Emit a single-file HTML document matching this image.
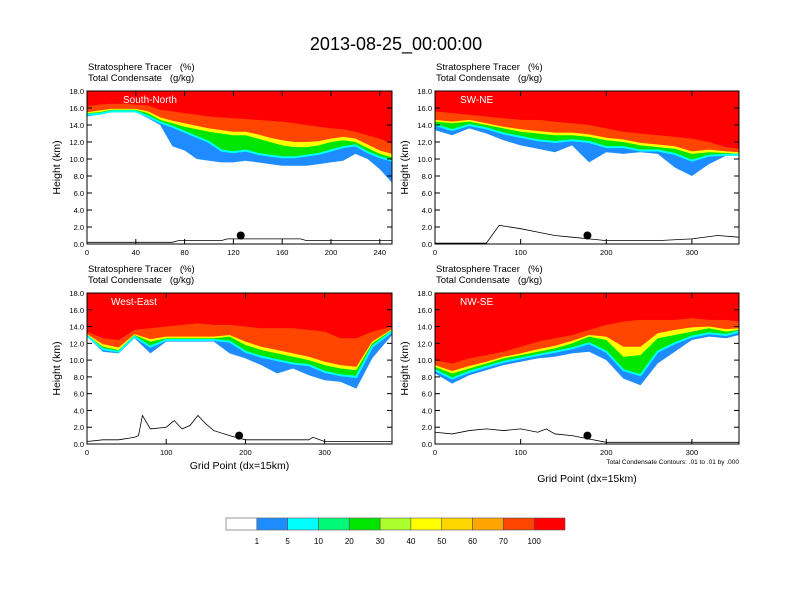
<!DOCTYPE html>
<html><head><meta charset="utf-8"><style>
body{margin:0;background:#fff;}
svg{display:block;font-family:"Liberation Sans",sans-serif;}
.pre{white-space:pre;}
</style></head><body>
<svg id="chart" width="792" height="612" viewBox="0 0 792 612">
<text x="396" y="50" text-anchor="middle" font-size="18">2013-08-25_00:00:00</text>
</svg>
<script>
// ---- data ----
const p1X=[0,10,20,30,40,50,60,70,80,90,100,110,120,130,140,150,160,170,180,190,200,210,220,230,240,250];
const p1B100=[16.2,16.4,16.5,16.5,16.4,16.3,15.8,15.6,15.4,15.2,15.0,14.9,14.8,14.7,14.6,14.5,14.4,14.2,14.0,13.8,13.6,13.5,13.2,12.8,12.4,11.8];
const p1B60=[15.5,15.7,15.9,15.9,15.9,15.6,14.9,14.5,14.2,13.9,13.6,13.4,13.2,13.2,12.9,12.5,12.2,12.0,12.0,12.1,12.4,12.6,12.4,11.7,11.0,10.6];
const p1B30=[15.4,15.5,15.8,15.8,15.8,15.4,14.6,14.2,13.8,13.5,13.2,13.0,12.8,12.8,12.4,12.0,11.6,11.4,11.4,11.6,12.0,12.2,12.0,11.3,10.6,10.2];
const p1B10=[15.2,15.3,15.6,15.6,15.6,15.0,14.3,13.8,13.2,12.6,12.0,11.0,10.8,11.0,10.6,10.4,10.2,10.2,10.4,10.6,11.0,11.4,11.6,10.8,10.2,9.8];
const p1B1=[15.0,15.2,15.5,15.5,15.5,14.8,14.0,11.5,11.0,10.0,9.8,9.6,9.6,9.8,9.6,9.4,9.2,9.2,9.2,9.4,9.6,9.8,10.6,10.0,8.8,7.2];
const p1TerrX=[0,70,75,110,115,175,180,250];
const p1Terr=[0.2,0.2,0.4,0.4,0.6,0.6,0.4,0.4];

const p2X=[0,20,40,60,80,100,120,140,160,180,200,220,240,260,280,300,320,340,355];
const p2B100=[15.6,15.4,15.2,15.0,14.8,14.6,14.6,14.4,14.2,14.0,13.6,13.2,13.0,12.8,12.6,12.4,12.0,11.4,11.2];
const p2B60=[14.6,14.4,14.6,14.2,13.8,13.5,13.3,13.1,13.1,12.9,12.5,12.3,11.9,11.7,11.5,10.9,11.1,10.9,10.8];
const p2B30=[14.4,14.2,14.4,14.0,13.6,13.2,13.0,12.8,12.8,12.6,12.2,12.0,11.6,11.4,11.2,10.6,10.8,10.7,10.6];
const p2B10=[14.0,13.4,14.0,13.6,13.0,12.6,12.2,12.0,12.2,12.0,11.4,11.4,11.0,11.0,10.6,9.8,10.4,10.5,10.5];
const p2B1=[13.4,12.8,13.6,13.0,12.2,11.6,11.2,10.8,11.6,9.6,10.8,10.6,10.8,10.6,9.0,8.0,9.4,10.4,10.4];
const p2TerrX=[0,60,75,100,120,140,160,180,200,260,300,330,355];
const p2Terr=[0.1,0.1,2.2,1.8,1.4,1.0,0.8,0.6,0.4,0.4,0.6,1.0,0.8];

const p3X=[0,20,40,60,80,100,120,140,160,180,200,220,240,260,280,300,320,340,360,385];
const p3B100=[13.4,12.6,12.4,13.6,13.8,14.0,14.2,14.4,14.2,14.2,14.0,13.8,13.8,13.8,13.6,13.4,12.6,12.6,13.4,14.0];
const p3B60=[13.1,11.9,11.5,13.1,12.5,12.8,12.8,12.8,12.8,13.0,12.2,11.6,11.2,10.8,10.4,9.8,9.4,9.2,12.2,13.7];
const p3B30=[13.0,11.6,11.2,13.0,12.2,12.6,12.6,12.6,12.6,12.8,11.8,11.2,10.8,10.4,10.0,9.4,9.0,8.8,12.0,13.6];
const p3B10=[12.9,11.3,11.0,12.8,11.6,12.4,12.4,12.4,12.4,12.2,11.0,10.4,10.0,9.6,9.4,8.6,8.2,8.0,11.6,13.4];
const p3B1=[12.8,11.0,10.8,12.6,10.8,12.2,12.2,12.2,12.2,10.8,10.2,9.4,8.4,9.0,8.2,7.6,7.4,6.6,10.2,13.0];
const p3TerrX=[0,20,40,60,65,70,80,100,110,120,130,140,150,160,180,200,280,285,300,385];
const p3Terr=[0.3,0.5,0.5,0.8,1.0,3.4,1.8,2.0,2.8,1.8,2.2,3.4,2.4,1.6,1.0,0.5,0.5,0.8,0.3,0.3];

const p4X=[0,20,40,60,80,100,120,140,160,180,200,220,240,260,280,300,320,340,355];
const p4B100=[10.0,9.6,10.2,10.6,11.0,11.6,12.2,12.6,13.0,13.6,14.2,14.6,14.8,14.8,14.8,15.0,14.8,14.8,14.6];
const p4B60=[9.4,8.7,9.3,9.8,10.4,10.8,11.3,11.7,12.3,13.0,12.8,11.6,11.6,13.2,13.6,13.9,14.0,13.7,13.8];
const p4B30=[9.2,8.4,9.0,9.6,10.2,10.6,11.0,11.4,12.0,12.8,12.4,10.4,10.6,12.6,13.0,13.4,13.8,13.4,13.6];
const p4B10=[8.8,7.8,8.6,9.2,9.8,10.2,10.6,11.0,11.4,12.0,11.0,8.8,8.2,11.0,12.0,12.8,13.2,13.0,13.4];
const p4B1=[8.4,7.2,8.2,8.8,9.4,9.8,10.2,10.4,10.8,11.0,10.0,7.8,7.0,9.6,11.0,12.4,12.8,12.6,13.0];
const p4TerrX=[0,20,40,60,80,100,120,130,140,160,180,200,260,300,355];
const p4Terr=[1.4,1.2,1.6,1.8,1.6,1.8,1.4,1.8,1.2,1.0,0.6,0.2,0.2,0.2,0.2];

const cbLabels=["1","5","10","20","30","40","50","60","70","100"];
const cbColors=["#ffffff","#1e8cff","#00ffff","#00fa78","#00e600","#aaff2d","#ffff00","#ffd700","#ffa500","#ff4500","#ff0000"];

const yTicks=[0,2,4,6,8,10,12,14,16,18];
const panels=[
 {name:"south-north",label:"South-North",x0:87,y0:91,w:305,h:153,xmax:250,ticks:[0,40,80,120,160,200,240],X:p1X,B:[p1B1,p1B10,p1B30,p1B60,p1B100],tx:p1TerrX,tv:p1Terr,dot:126,lx:123},
 {name:"sw-ne",label:"SW-NE",x0:435,y0:91,w:304,h:153,xmax:355,ticks:[0,100,200,300],X:p2X,B:[p2B1,p2B10,p2B30,p2B60,p2B100],tx:p2TerrX,tv:p2Terr,dot:178,lx:460},
 {name:"west-east",label:"West-East",x0:87,y0:293,w:305,h:151,xmax:385,ticks:[0,100,200,300],X:p3X,B:[p3B1,p3B10,p3B30,p3B60,p3B100],tx:p3TerrX,tv:p3Terr,dot:192,lx:111},
 {name:"nw-se",label:"NW-SE",x0:435,y0:293,w:304,h:151,xmax:355,ticks:[0,100,200,300],X:p4X,B:[p4B1,p4B10,p4B30,p4B60,p4B100],tx:p4TerrX,tv:p4Terr,dot:178,lx:460}
];
const bandColors=["#1e8cff","#00e600","#ffff00","#ff4500","#ff0000"];
// ---- render ----
const NS="http://www.w3.org/2000/svg";
const svg=document.getElementById("chart");
function mk(tag,attrs,parent){const e=document.createElementNS(NS,tag);for(const k in attrs)e.setAttribute(k,attrs[k]);(parent||svg).appendChild(e);return e;}
panels.forEach((p,pi)=>{
 const sx=v=>p.x0+v/p.xmax*p.w;
 const sy=v=>p.y0+p.h-v/18*p.h;
 const g=mk("g",{});
 
 
 const cp=mk("clipPath",{id:"c"+pi},g);
 mk("rect",{x:p.x0,y:p.y0,width:p.w,height:p.h},cp);
 const fg=mk("g",{"clip-path":"url(#c"+pi+")"},g);
 p.B.forEach((arr,bi)=>{
  let pts=p.X.map((x,i)=>sx(x)+","+sy(arr[i])).join(" ");
  pts+=" "+sx(p.X[p.X.length-1])+","+sy(18)+" "+sx(0)+","+sy(18);
  const poly=mk("polygon",{points:pts,fill:bandColors[bi]},fg);
  
  
 });
 // thin cyan edge along the 10% boundary
 const edge=mk("polyline",{points:p.X.map((x,i)=>sx(x)+","+sy(p.B[1][i])).join(" "),fill:"none",stroke:"#00ffff","stroke-width":"2"},fg);
 
 
 const tl=mk("polyline",{points:p.tx.map((x,i)=>sx(x)+","+sy(p.tv[i])).join(" "),fill:"none",stroke:"#000","stroke-width":"0.8"},fg);
 
 
 const dot=mk("circle",{cx:sx(p.dot),cy:sy(1.0),r:4,fill:"#000"},g);
 
 
 mk("rect",{x:p.x0,y:p.y0,width:p.w,height:p.h,fill:"none",stroke:"#000","stroke-width":"1"},g);
 yTicks.forEach(t=>{
  const y=sy(t);
  mk("line",{x1:p.x0,x2:p.x0+5,y1:y,y2:y,stroke:"#000"},g);
  mk("line",{x1:p.x0+p.w-5,x2:p.x0+p.w,y1:y,y2:y,stroke:"#000"},g);
  const tt=mk("text",{x:p.x0-3,y:y+3,"text-anchor":"end","font-size":"7.5"},g);tt.textContent=t.toFixed(1);
  
  
 });
 p.ticks.forEach(t=>{
  const x=sx(t);
  mk("line",{x1:x,x2:x,y1:p.y0+p.h-5,y2:p.y0+p.h,stroke:"#000"},g);
  mk("line",{x1:x,x2:x,y1:p.y0,y2:p.y0+5,stroke:"#000"},g);
  const tt=mk("text",{x:x,y:p.y0+p.h+11,"text-anchor":"middle","font-size":"7.5"},g);tt.textContent=t;
  
  
 });
 const lb=mk("text",{x:p.lx,y:p.y0+12,fill:"#fff","font-size":"10"},g);lb.textContent=p.label;
 
 
 const t1=mk("text",{x:p.x0+1,y:p.y0-21,"font-size":"9.5","class":"pre"},g);t1.textContent="Stratosphere Tracer   (%)";
 
 
 const t2=mk("text",{x:p.x0+1,y:p.y0-10,"font-size":"9.5","class":"pre"},g);t2.textContent="Total Condensate   (g/kg)";
 
 
 const ya=mk("text",{x:0,y:0,"font-size":"10.5","text-anchor":"middle",transform:"translate("+(p.x0-27)+","+(p.y0+p.h/2)+") rotate(-90)"},g);ya.textContent="Height (km)";
 
 
 if(pi>=2){
  const xa=mk("text",{x:p.x0+p.w/2,y:pi==2?469:482,"font-size":"10.5","text-anchor":"middle"},g);xa.textContent="Grid Point (dx=15km)";
  
  
 }
 if(pi==3){
  const n=mk("text",{x:p.x0+p.w,y:464,"font-size":"6.5","text-anchor":"end"},g);n.textContent="Total Condensate Contours: .01 to .01 by .000";
  
  
 }
});
// colorbar
const cbx=226,cbw=339,cby=518,cbh=12,bw=cbw/cbColors.length;
cbColors.forEach((c,i)=>{
 const r=mk("rect",{x:cbx+i*bw,y:cby,width:bw,height:cbh,fill:c,stroke:"#555","stroke-width":"0.6"});
 
 
});
cbLabels.forEach((l,i)=>{
 const t=mk("text",{x:cbx+(i+1)*bw,y:544,"font-size":"8","text-anchor":"middle"});t.textContent=l;
 
 
});
</script>
</body></html>
